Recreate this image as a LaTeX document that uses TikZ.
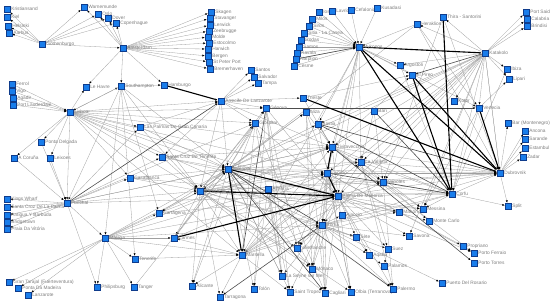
\documentclass[tikz,border=0pt]{standalone}
\usepackage{fontspec}
\setmainfont{Liberation Sans}
\usetikzlibrary{arrows.meta}
\definecolor{nb}{RGB}{25,125,235}
\definecolor{nbd}{RGB}{15,60,140}
\definecolor{lg}{RGB}{125,125,125}
\pgfdeclarelayer{bg}
\pgfsetlayers{bg,main}
\newcommand{\port}[4]{\node[sq,label={[lab]right:#4}] (#1) at (#2,#3) {};}
\begin{document}
\begin{tikzpicture}[x=1pt,y=-1pt,
  sq/.style={rectangle,draw=nbd,fill=nb,line width=0.3pt,minimum size=6.3pt,inner sep=0pt},
  lab/.style={font=\fontsize{4.8}{5.5}\selectfont,text=lg,inner sep=0.8pt},
  e/.style={draw=gray!75,line width=0.3pt,-{Latex[length=2.4pt,width=2pt,color=black]}},
  dk/.style={e,draw=black!70,line width=0.6pt},
  tk/.style={e,draw=black,line width=1.1pt}]
\useasboundingbox (0,0) rectangle (550,303);
% north
\port{kri}{7}{9}{Kristiansand}
\port{kie}{7}{17}{Kiel}
\port{hel}{8}{26}{Helsinki}
\port{aar}{9}{33}{Aarhus}
\port{got}{42}{44}{Gothenburgo}
\port{war}{84}{7}{Warnemunde}
\port{osl}{98}{14}{Oslo}
\port{dov}{108}{18}{Dover}
\port{cop}{116}{23}{Copenhague}
\port{ams}{123}{48}{Amsterdam}
\port{ska}{211}{12}{Skagen}
\port{sta}{210}{18}{Stavanger}
\port{ler}{210}{25}{Lerwick}
\port{zee}{209}{31}{Zeebrugge}
\port{mol}{208}{37}{Molde}
\port{est}{209}{43}{Estocolmo}
\port{har}{208}{49}{Harwich}
\port{ber}{208}{56}{Bergen}
\port{stp}{209}{62}{St Peter Port}
\port{bre}{210}{69}{Bremerhaven}
\port{ham}{164}{85}{Hamburgo}
\port{san}{251}{70}{Santos}
\port{sal}{254}{77}{Salvador}
\port{tam}{258}{83}{Tampa}
\port{arr}{221}{101}{Arrecife De Lanzarote}
% aegean
\port{ios}{319}{12}{Ios}
\port{lav}{332}{11}{Lavrio}
\port{cef}{351}{10}{Cefalonia}
\port{kus}{377}{8}{Kusadasi}
\port{mil}{312}{19}{Milos}
\port{sir}{309}{26}{Siros}
\port{sit}{304}{33}{Sitia - La Canea}
\port{rod}{301}{40}{Rodas}
\port{sam}{299}{47}{Samos}
\port{kav}{297}{53}{Kavala}
\port{naf}{296}{59}{Nafplion}
\port{ces}{294}{66}{Cesme}
\port{myk}{359}{47}{Mykonos}
\port{tri}{303}{98}{Trieste}
\port{arg}{400}{65}{Argostoli}
\port{her}{417}{24}{Heraklion}
\port{thi}{443}{17}{Thira - Santorini}
\port{psa}{526}{12}{Port Said}
\port{cal}{527}{19}{Calabria}
\port{bri}{527}{26}{Brindisi}
\port{kat}{485}{53}{Katakolo}
\port{pir}{412}{75}{El Pireo}
\port{ibi}{507}{69}{Ibiza}
\port{lip}{509}{79}{Lipari}
\port{nav}{454}{101}{Kotor}
\port{ven}{479}{108}{Venecia}
\port{bar}{508}{123}{Bar (Montenegro)}
\port{anc}{525}{131}{Ancona}
\port{sar}{525}{139}{Sarande}
\port{ets}{525}{148}{Estambul}
\port{zad}{523}{157}{Zadar}
\port{dub}{500}{173}{Dubrovnik}
\port{cor}{452}{194}{Corfu}
\port{spl}{508}{206}{Split}
% atlantic
\port{leh}{86}{87}{Le Havre}
\port{sou}{121}{86}{Southampton}
\port{fer}{12}{84}{Ferrol}
\port{vig}{12}{91}{Vigo}
\port{aga}{13}{98}{Agadir}
\port{ptl}{13}{105}{Port Lauderdale}
\port{lis}{70}{112}{Lisboa}
\port{pdl}{41}{142}{Ponta Delgada}
\port{aco}{14}{158}{A Coruña}
\port{lei}{50}{158}{Leixoes}
\port{cas}{130}{178}{Casablanca}
\port{kin}{7}{199}{Kings Wharf}
\port{scp}{7}{207}{Santa Cruz De La Palma}
\port{ant}{7}{215}{Antigua Y Barbuda}
\port{brg}{7}{222}{Bridgetown}
\port{pra}{7}{229}{Praia Da Vitória}
\port{fun}{67}{203}{Funchal}
\port{mal}{105}{238}{Málaga}
\port{gta}{9}{282}{Gran Tarajal (Fuerteventura)}
\port{pma}{18}{288}{Ponta Da Madeira}
\port{lan}{28}{295}{Lanzarote}
\port{phi}{97}{287}{Philipsburg}
\port{tan}{134}{287}{Tanger}
\port{ten}{135}{259}{Tenerife}
\port{lpa}{140}{127}{Las Palmas De Gran Canaria}
\port{sct}{162}{157}{Santa Cruz De Tenerife}
% med
\port{val}{228}{169}{Valencia}
\port{bcn}{200}{191}{Barcelona}
\port{gib}{255}{123}{Gibraltar}
\port{gen}{266}{108}{Génova}
\port{xx}{268}{189}{Almería}
\port{niz}{306}{112}{Niza}
\port{bas}{318}{124}{Bastia}
\port{civ}{332}{147}{Civitavecchia}
\port{lva}{361}{162}{La Valletta}
\port{liv}{327}{173}{Livorno}
\port{nap}{383}{182}{Nápoles}
\port{pal}{338}{196}{Palma De Mallorca}
\port{bari}{374}{111}{Bari}
\port{ctg}{159}{213}{Cartagena}
\port{can}{174}{238}{Cannes}
\port{mar}{242}{255}{Marsella}
\port{ali}{192}{286}{Alicante}
\port{tar}{220}{297}{Tarragona}
\port{tol}{254}{289}{Tolón}
\port{aja}{342}{215}{Ajaccio}
\port{rom}{322}{225}{Roma}
\port{mah}{399}{212}{Mahón}
\port{ste}{356}{237}{Sète}
\port{sav}{409}{236}{Savona}
\port{vil}{297}{248}{Villefranche}
\port{sue}{388}{249}{Suez}
\port{aqa}{369}{255}{Aqaba}
\port{plm}{384}{266}{Palamos}
\port{mon}{312}{269}{Mónaco}
\port{lsy}{282}{276}{La Seyne sur Mer}
\port{stt}{290}{292}{Saint Tropez}
\port{cag}{325}{293}{Cagliari}
\port{olb}{351}{292}{Olbia (Terranova)}
\port{pam}{393}{289}{Palermo}
\port{mes}{423}{209}{Messina}
\port{mcr}{429}{221}{Monte Carlo}
\port{pro}{463}{246}{Propriano}
\port{pfe}{474}{253}{Porto Ferraio}
\port{pto}{474}{263}{Porto Torres}
\port{pdr}{442}{283}{Puerto Del Rosario}
\begin{pgfonlayer}{bg}
\foreach \a/\b in {got/kri,got/kie,got/hel,got/aar,got/war,got/osl,got/dov,got/cop,
 ams/war,ams/osl,ams/dov,ams/cop,got/ams,ams/ska,ams/sta,ams/ler,ams/zee,ams/mol,ams/est,
 ams/har,ams/ber,ams/stp,ams/bre,ams/leh,ams/sou,ams/ham,sou/ham,lis/leh,lis/sou,
 arr/san,arr/sal,arr/tam,arr/tri,lpa/arr,lis/arr,arr/bcn,arr/val,arr/sct,arr/gib,arr/civ,arr/gen,
 ios/myk,lav/myk,cef/myk,kus/myk,mil/myk,sir/myk,sit/myk,rod/myk,sam/myk,kav/myk,naf/myk,ces/myk,
 myk/arg,myk/pir,myk/civ,myk/liv,myk/pal,myk/rom,myk/mar,myk/lva,myk/bas,myk/ven,
 her/myk,her/dub,her/ven,her/bcn,thi/dub,thi/nap,
 kat/psa,kat/cal,kat/bri,kat/her,kat/thi,kat/ibi,kat/lip,kat/arg,kat/ven,kat/cor,kat/dub,
 kat/bcn,kat/val,kat/pal,kat/civ,kat/liv,kat/lva,kat/nap,kat/rom,kat/mar,kat/mes,kat/sav,kat/bas,kat/nav,
 cor/ibi,ven/lip,civ/pir,tri/pir,arg/cor,
 ven/cor,ven/mes,dub/bar,dub/anc,dub/sar,dub/ets,dub/zad,dub/spl,
 bcn/dub,val/dub,civ/dub,liv/dub,pal/dub,kat/dub,nap/dub,lva/dub,rom/dub,cor/dub,
 bcn/cor,val/cor,pal/cor,civ/cor,lva/cor,nap/cor,rom/cor,mar/cor,cor/spl,cor/mes,
 bcn/ctg,bcn/can,bcn/ali,bcn/tar,bcn/mar,bcn/civ,bcn/liv,bcn/rom,bcn/lva,bcn/nap,bcn/gen,bcn/gib,
 bcn/niz,bcn/vil,bcn/mon,bcn/mah,bcn/ste,bcn/cag,bcn/olb,bcn/mes,bcn/val,
 val/civ,val/liv,val/lva,val/nap,val/bas,val/niz,val/gen,val/gib,val/ctg,val/ali,val/can,val/tol,
 val/lsy,val/stt,val/mon,
 pal/civ,pal/rom,pal/mah,pal/ste,pal/sue,pal/aqa,pal/nap,pal/lva,pal/mes,pal/mcr,pal/sav,pal/pfe,
 pal/olb,pal/pam,pal/cag,pal/mon,pal/vil,
 civ/lva,civ/nap,civ/pfe,civ/bas,civ/rom,liv/pro,liv/pfe,liv/rom,liv/mon,liv/cag,liv/olb,liv/vil,
 rom/aja,rom/mah,rom/ste,rom/sav,rom/vil,rom/mon,rom/lsy,rom/stt,rom/cag,rom/olb,rom/pam,rom/aqa,
 rom/pdr,rom/sue,
 mar/can,mar/ali,mar/tar,mar/stt,mar/civ,mar/liv,mar/pal,mar/rom,mar/nap,mar/lva,
 gen/tol,gen/stt,gen/vil,gen/pal,gen/lsy,gib/mar,gib/can,gib/ali,gib/lsy,gib/cag,gib/pal,
 xx/tol,xx/stt,xx/lsy,xx/mon,niz/civ,niz/mon,niz/cag,niz/pal,bas/civ,bas/olb,
 lva/nap,lva/mes,lva/sue,lva/pam,nap/mes,nap/mcr,nap/pam,bari/nap,bari/lva,tri/civ,
 ste/aqa,sue/plm,aqa/plm,
 fer/lis,vig/lis,aga/lis,ptl/lis,lis/pdl,lis/aco,lis/lei,
 lis/cas,lis/lpa,lis/sct,lis/val,lis/bcn,lis/gib,lis/civ,lis/pal,lis/liv,lis/mar,lis/rom,lis/gen,
 fun/kin,fun/scp,fun/ant,fun/brg,fun/pra,aco/fun,lei/fun,pdl/fun,lis/fun,fun/mal,fun/phi,
 fun/lpa,fun/sct,fun/val,fun/bcn,fun/gib,fun/civ,fun/pal,fun/cas,
 mal/gta,mal/pma,mal/lan,mal/phi,mal/tan,mal/ten,mal/bcn,mal/val,mal/pal,mal/civ,mal/mar,
 mal/liv,mal/ctg,mal/can,mal/rom,
 sou/lis,sou/fun,sou/mal,sou/ten,sou/ctg,sou/bcn,sou/val,
 cas/bcn,cas/val,cas/pal,lpa/val,lpa/bcn,sct/bcn,sct/val,sct/pal,sct/civ,
 ctg/civ,ctg/pal,can/liv,ten/mar,tan/val}
 \draw[e] (\a) -- (\b);
\foreach \a/\b in {naf/myk,kat/pir,val/pam,val/cag,civ/pto,rom/tar,fun/arr,liv/cor,
 gen/ven,bas/dub,bas/cor,bari/cor,val/rom,gen/mar}
 \draw[dk] (\a) -- (\b);
\foreach \a/\b in {ham/arr,myk/kat,myk/cor,myk/dub,thi/cor,pir/dub,pir/cor,ven/dub,
 tri/dub,civ/liv,liv/pal,val/pal,val/mar,bcn/pal,can/pal}
 \draw[tk] (\a) -- (\b);
\end{pgfonlayer}
\end{tikzpicture}
\end{document}
